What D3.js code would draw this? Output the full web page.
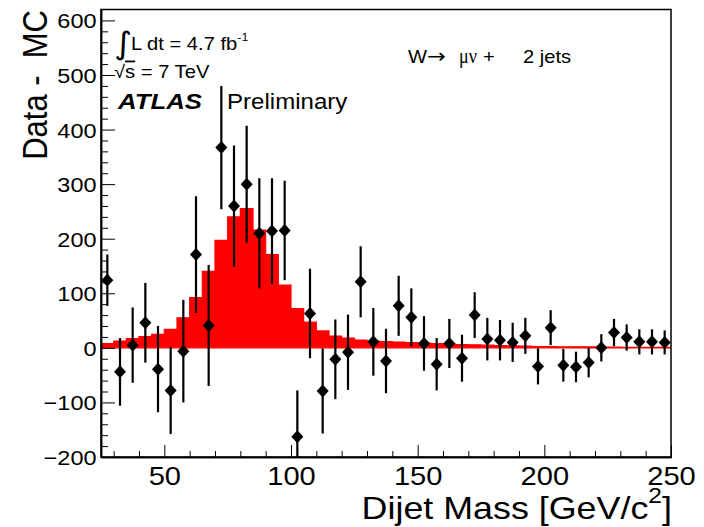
<!DOCTYPE html>
<html>
<head>
<meta charset="utf-8">
<script src="https://cdn.jsdelivr.net/npm/d3@7"></script>
<style>
  html, body { margin: 0; padding: 0; background: #fff; }
  svg { display: block; }
  text { font-family: "Liberation Sans", Arial, Helvetica, sans-serif; fill: #000; }
</style>
</head>
<body>
<script>
// Dijet mass bins (GeV/c^2): 5 GeV wide from 25 to 250
const binEdges = [25, 30, 35, 40, 45, 50, 55, 60, 65, 70, 75, 80, 85, 90, 95, 100,
  105, 110, 115, 120, 125, 130, 135, 140, 145, 150, 155, 160, 165, 170, 175, 180,
  185, 190, 195, 200, 205, 210, 215, 220, 225, 230, 235, 240, 245, 250];

// Expected WW/WZ contribution (red histogram), one value per bin
const mcSignal = [7.6, 12.5, 16.8, 20.5, 24.7, 34, 55, 92, 140, 197, 240, 255, 216, 171, 115,
  72, 47, 31, 21.6, 18, 14.3, 12.5, 11.5, 10.5, 9.5, 8.5, 7.6, 7, 6, 5.5,
  5, 4, 3.5, 3, 2.5, 2.5, 2, 2, 2, 1.5, 1.5, 1, 1, 1, 0.8];

// Data minus background MC, per bin
const dataMinusMC = [124, -44, 5, 46, -39, -78, -6, 171, 41, 367, 260, 300, 210, 214, 215,
  -163, 63, -79, -21, -8, 121, 11, -24, 77, 56, 8, -30, 8, -19, 60,
  16, 14, 10, 22, -34, 37, -32, -35, -27, 0, 28, 19, 11, 11, 10];

// Statistical uncertainty on each data point
const dataError = [47, 62, 69, 73, 79, 80, 94, 107, 111, 113, 111, 107, 101, 97, 91,
  85, 82, 78, 73, 69, 65, 62, 59, 55, 53, 50, 48, 45, 43, 42,
  39, 37, 36, 33, 33, 32, 30, 28, 27, 25, 25, 24, 23, 23, 22];

const xMajorTicks = [50, 100, 150, 200, 250];
const xMinorTicks = [30, 40, 60, 70, 80, 90, 110, 120, 130, 140, 160, 170, 180, 190, 210, 220, 230, 240];
const yMajorTicks = [-200, -100, 0, 100, 200, 300, 400, 500, 600];
const yMinorTicks = [-180, -160, -140, -120, -80, -60, -40, -20, 20, 40, 60, 80, 120, 140, 160, 180,
  220, 240, 260, 280, 320, 340, 360, 380, 420, 440, 460, 480, 520, 540, 560, 580];

const W = 704, H = 527;
const plot = { left: 101, right: 671, top: 9.5, bottom: 457 };
const SX = 1.12; // horizontal stretch of the ROOT-style lettering

const x = d3.scaleLinear().domain([25, 250]).range([plot.left, plot.right]);
const y = d3.scaleLinear().domain([-200, 620]).range([plot.bottom, plot.top]);

const svg = d3.select("body").append("svg").attr("width", W).attr("height", H);
svg.append("rect").attr("width", W).attr("height", H).attr("fill", "#fff");

svg.append("defs").append("clipPath").attr("id", "plotClip")
  .append("rect")
  .attr("x", plot.left).attr("y", plot.top)
  .attr("width", plot.right - plot.left).attr("height", plot.bottom - plot.top);

const inner = svg.append("g").attr("clip-path", "url(#plotClip)");

// Red signal histogram
const stepPts = mcSignal.map((v, i) => [binEdges[i], v])
  .concat([[binEdges[binEdges.length - 1], mcSignal[mcSignal.length - 1]]]);
const area = d3.area()
  .x(d => x(d[0]))
  .y0(y(0))
  .y1(d => y(d[1]))
  .curve(d3.curveStepAfter);
inner.append("path")
  .datum(stepPts)
  .attr("d", area)
  .attr("fill", "#ff0000")
  .attr("stroke", "#ff0000")
  .attr("stroke-width", 1.2);

// Data points with error bars
const points = dataMinusMC.map((v, i) => ({
  c: (binEdges[i] + binEdges[i + 1]) / 2, v, e: dataError[i]
}));
inner.selectAll("line.err").data(points).enter().append("line")
  .attr("class", "err")
  .attr("x1", d => x(d.c)).attr("x2", d => x(d.c))
  .attr("y1", d => y(d.v + d.e)).attr("y2", d => y(d.v - d.e))
  .attr("stroke", "#000").attr("stroke-width", 2.2);
inner.selectAll("path.mk").data(points).enter().append("path")
  .attr("class", "mk")
  .attr("transform", d => `translate(${x(d.c)},${y(d.v)})`)
  .attr("d", "M0,-6.5L6,0L0,6.5L-6,0Z")
  .attr("fill", "#000");

// Axes
function styleTicks(g) {
  g.selectAll(".tick line").attr("stroke", "#000").attr("stroke-width", 1);
  g.select(".domain").attr("stroke", "#000").attr("stroke-width", 1.5);
}
const gxMinor = svg.append("g").attr("transform", `translate(0,${plot.bottom})`)
  .call(d3.axisBottom(x).tickValues(xMinorTicks).tickSizeInner(-6).tickSizeOuter(0).tickFormat(""));
styleTicks(gxMinor);
const gx = svg.append("g").attr("transform", `translate(0,${plot.bottom})`)
  .call(d3.axisBottom(x).tickValues(xMajorTicks).tickSizeInner(-12).tickSizeOuter(0).tickFormat(d3.format("d")));
styleTicks(gx);
gx.selectAll(".tick text")
  .attr("y", 28).attr("dy", 0)
  .attr("transform", `scale(${SX},1)`)
  .style("font-family", "'Liberation Sans', Arial, sans-serif")
  .style("font-size", "26px");

const gyMinor = svg.append("g").attr("transform", `translate(${plot.left},0)`)
  .call(d3.axisLeft(y).tickValues(yMinorTicks).tickSizeInner(-7).tickSizeOuter(0).tickFormat(""));
styleTicks(gyMinor);
const gy = svg.append("g").attr("transform", `translate(${plot.left},0)`)
  .call(d3.axisLeft(y).tickValues(yMajorTicks).tickSizeInner(-14).tickSizeOuter(0).tickFormat(d3.format("d")));
styleTicks(gy);
gy.selectAll(".tick text")
  .attr("x", -4).attr("dy", "0.36em")
  .attr("transform", `scale(${SX},1)`)
  .style("font-family", "'Liberation Sans', Arial, sans-serif")
  .style("font-size", "21px");

// Frame
svg.append("rect")
  .attr("x", plot.left).attr("y", plot.top)
  .attr("width", plot.right - plot.left).attr("height", plot.bottom - plot.top)
  .attr("fill", "none").attr("stroke", "#000").attr("stroke-width", 1.5);

// Helper for stretched text
function label(px, py, size, opts = {}) {
  const t = svg.append("text")
    .attr("transform", `translate(${px},${py}) scale(${SX},1)` + (opts.rotate ? ` rotate(${opts.rotate})` : ""))
    .style("font-size", size + "px")
    .attr("text-anchor", opts.anchor || "start");
  if (opts.family) t.style("font-family", opts.family);
  if (opts.weight) t.style("font-weight", opts.weight);
  if (opts.italic) t.style("font-style", "italic");
  t.style("white-space", "pre");
  return t;
}

// Axis titles
label(47, 10, 31, { rotate: -90, anchor: "end" }).text("Data -  MC");
const xt = label(672, 518.5, 32, { anchor: "end" });
xt.append("tspan").text("Dijet Mass [GeV/c");
xt.append("tspan").attr("dy", -16).style("font-size", "22px").text("2");
xt.append("tspan").attr("dy", 16).text("]");

// Luminosity / energy annotations
label(114, 54, 31, { family: "'DejaVu Sans', sans-serif" }).text("∫");
const lum = label(131, 49.5, 18);
lum.append("tspan").text("L dt = 4.7 fb");
lum.append("tspan").attr("dy", -9).style("font-size", "11px").text("-1");

const rs = label(114, 77.5, 18);
rs.append("tspan").text("√");
rs.append("tspan").style("text-decoration", "overline").text("s");
rs.append("tspan").text(" = 7 TeV");

label(118, 108.5, 23, { weight: "bold", italic: true }).text("ATLAS");
label(227, 108.5, 21.5).text("Preliminary");

// Channel label
label(408, 63, 18).text("W");
label(427, 63, 20, { family: "'DejaVu Sans', sans-serif" }).text("→");
label(459, 63, 21, { family: "'Liberation Serif', serif" })
  .attr("textLength", 16).attr("lengthAdjust", "spacingAndGlyphs")
  .text("μν");
label(483, 63, 18).text("+");
label(523, 63, 18).text("2 jets");
</script>
</body>
</html>
